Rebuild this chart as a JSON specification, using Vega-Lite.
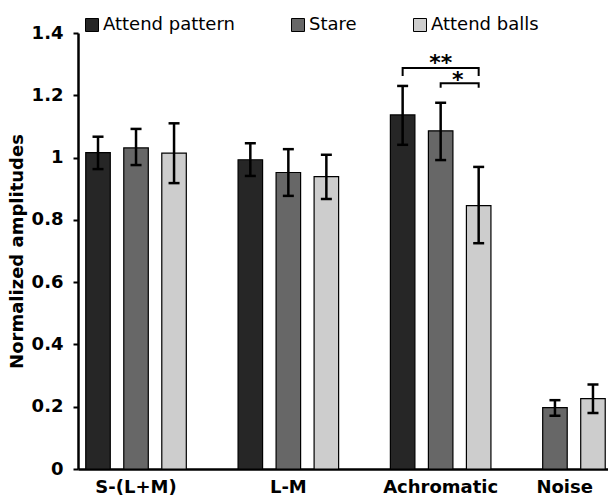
{
  "$schema": "https://vega.github.io/schema/vega-lite/v6.json",
  "width": 530,
  "height": 436,
  "autosize": {"type": "none"},
  "padding": {"left": 78, "top": 33, "right": 0, "bottom": 31},
  "background": "white",
  "config": {"view": {"stroke": null}, "font": "DejaVu Sans"},
  "datasets": {
    "bars": [
      {"category": "S-(L+M)", "slot": "1", "condition": "Attend pattern", "value": 1.016, "lo": 0.963, "hi": 1.067},
      {"category": "S-(L+M)", "slot": "2", "condition": "Stare", "value": 1.031, "lo": 0.976, "hi": 1.092},
      {"category": "S-(L+M)", "slot": "3", "condition": "Attend balls", "value": 1.014, "lo": 0.918, "hi": 1.110},
      {"category": "L-M", "slot": "1", "condition": "Attend pattern", "value": 0.993, "lo": 0.941, "hi": 1.046},
      {"category": "L-M", "slot": "2", "condition": "Stare", "value": 0.952, "lo": 0.877, "hi": 1.027},
      {"category": "L-M", "slot": "3", "condition": "Attend balls", "value": 0.939, "lo": 0.867, "hi": 1.009},
      {"category": "Achromatic", "slot": "1", "condition": "Attend pattern", "value": 1.137, "lo": 1.041, "hi": 1.230},
      {"category": "Achromatic", "slot": "2", "condition": "Stare", "value": 1.086, "lo": 0.992, "hi": 1.176},
      {"category": "Achromatic", "slot": "3", "condition": "Attend balls", "value": 0.846, "lo": 0.725, "hi": 0.970},
      {"category": "Noise", "slot": "1", "condition": "Stare", "value": 0.197, "lo": 0.171, "hi": 0.221},
      {"category": "Noise", "slot": "2", "condition": "Attend balls", "value": 0.226, "lo": 0.180, "hi": 0.271}
    ],
    "brackets": [
      {"category": "Achromatic", "bracket": "**", "slot": "1", "y": 1.262, "order": 1},
      {"category": "Achromatic", "bracket": "**", "slot": "1", "y": 1.288, "order": 2},
      {"category": "Achromatic", "bracket": "**", "slot": "3", "y": 1.288, "order": 3},
      {"category": "Achromatic", "bracket": "**", "slot": "3", "y": 1.262, "order": 4},
      {"category": "Achromatic", "bracket": "*", "slot": "2", "y": 1.224, "order": 1},
      {"category": "Achromatic", "bracket": "*", "slot": "2", "y": 1.239, "order": 2},
      {"category": "Achromatic", "bracket": "*", "slot": "3", "y": 1.239, "order": 3},
      {"category": "Achromatic", "bracket": "*", "slot": "3", "y": 1.224, "order": 4}
    ],
    "stars2": [{"category": "Achromatic", "slot": "2", "label": "**", "y": 1.282}],
    "stars1": [{"category": "Achromatic", "slot": "3", "label": "*", "y": 1.228}]
  },
  "layer": [
    {
      "data": {"name": "bars"},
      "mark": {"type": "bar", "stroke": "black", "strokeWidth": 1.2},
      "encoding": {
        "x": {
          "field": "category", "type": "nominal",
          "sort": ["S-(L+M)", "L-M", "Achromatic", "Noise"],
          "scale": {"range": [0, 573], "paddingInner": 0.238, "paddingOuter": 0},
          "axis": {
            "title": null, "domainColor": "black", "domainWidth": 2.5, "ticks": false,
            "labelFont": "DejaVu Sans", "labelFontWeight": "bold", "labelFontSize": 18,
            "labelColor": "black", "labelPadding": 9, "labelAngle": 0,
            "labelAlign": {"condition": {"test": "datum.value === 'Noise'", "value": "right"}, "value": "center"}
          }
        },
        "xOffset": {"field": "slot", "type": "nominal", "scale": {"domain": ["1", "2", "3"], "paddingInner": 0.355, "paddingOuter": 0.204}},
        "y": {
          "field": "value", "type": "quantitative",
          "scale": {"domain": [0, 1.4], "nice": false},
          "axis": {
            "title": "Normalized amplitudes", "titleFont": "DejaVu Sans", "titleFontSize": 18,
            "titleFontWeight": "bold", "titleColor": "black", "titlePadding": 5,
            "values": [0, 0.2, 0.4, 0.6, 0.8, 1, 1.2, 1.4], "format": "~g", "grid": false,
            "domainColor": "black", "domainWidth": 2.5, "tickColor": "black", "tickWidth": 2, "tickSize": 5,
            "labelFont": "DejaVu Sans", "labelFontSize": 18, "labelFontWeight": "bold", "labelColor": "black", "labelPadding": 10
          }
        },
        "color": {
          "field": "condition", "type": "nominal",
          "scale": {"domain": ["Attend pattern", "Stare", "Attend balls"], "range": ["#262626", "#676767", "#cdcdcd"]},
          "legend": {
            "title": null, "orient": "none", "direction": "horizontal", "legendX": 5, "legendY": -17,
            "symbolType": "square", "symbolSize": 169, "symbolStrokeColor": "black", "symbolStrokeWidth": 1,
            "symbolOpacity": 1, "labelFont": "DejaVu Sans", "labelFontSize": 18, "labelColor": "black",
            "labelOffset": 2, "columnPadding": 54, "padding": 0
          }
        }
      }
    },
    {
      "data": {"name": "bars"},
      "mark": {"type": "rule", "color": "black", "strokeWidth": 2.5},
      "encoding": {
        "x": {"field": "category", "type": "nominal", "sort": ["S-(L+M)", "L-M", "Achromatic", "Noise"]},
        "xOffset": {"field": "slot", "type": "nominal"},
        "y": {"field": "lo", "type": "quantitative"},
        "y2": {"field": "hi"}
      }
    },
    {
      "data": {"name": "bars"},
      "mark": {"type": "tick", "color": "black", "opacity": 1, "size": 11, "thickness": 2.5},
      "encoding": {
        "x": {"field": "category", "type": "nominal", "sort": ["S-(L+M)", "L-M", "Achromatic", "Noise"]},
        "xOffset": {"field": "slot", "type": "nominal"},
        "y": {"field": "lo", "type": "quantitative"}
      }
    },
    {
      "data": {"name": "bars"},
      "mark": {"type": "tick", "color": "black", "opacity": 1, "size": 11, "thickness": 2.5},
      "encoding": {
        "x": {"field": "category", "type": "nominal", "sort": ["S-(L+M)", "L-M", "Achromatic", "Noise"]},
        "xOffset": {"field": "slot", "type": "nominal"},
        "y": {"field": "hi", "type": "quantitative"}
      }
    },
    {
      "data": {"name": "brackets"},
      "mark": {"type": "line", "color": "black", "strokeWidth": 2},
      "encoding": {
        "x": {"field": "category", "type": "nominal", "sort": ["S-(L+M)", "L-M", "Achromatic", "Noise"]},
        "xOffset": {"field": "slot", "type": "nominal"},
        "y": {"field": "y", "type": "quantitative"},
        "detail": {"field": "bracket"},
        "order": {"field": "order", "type": "quantitative"}
      }
    },
    {
      "data": {"name": "stars2"},
      "mark": {"type": "text", "font": "DejaVu Sans", "fontWeight": "bold", "fontSize": 22, "baseline": "alphabetic", "color": "black"},
      "encoding": {
        "x": {"field": "category", "type": "nominal", "sort": ["S-(L+M)", "L-M", "Achromatic", "Noise"]},
        "xOffset": {"field": "slot", "type": "nominal"},
        "y": {"field": "y", "type": "quantitative"},
        "text": {"field": "label"}
      }
    },
    {
      "data": {"name": "stars1"},
      "mark": {"type": "text", "font": "DejaVu Sans", "fontWeight": "bold", "fontSize": 22, "baseline": "alphabetic", "color": "black", "dx": -21},
      "encoding": {
        "x": {"field": "category", "type": "nominal", "sort": ["S-(L+M)", "L-M", "Achromatic", "Noise"]},
        "xOffset": {"field": "slot", "type": "nominal"},
        "y": {"field": "y", "type": "quantitative"},
        "text": {"field": "label"}
      }
    }
  ]
}
